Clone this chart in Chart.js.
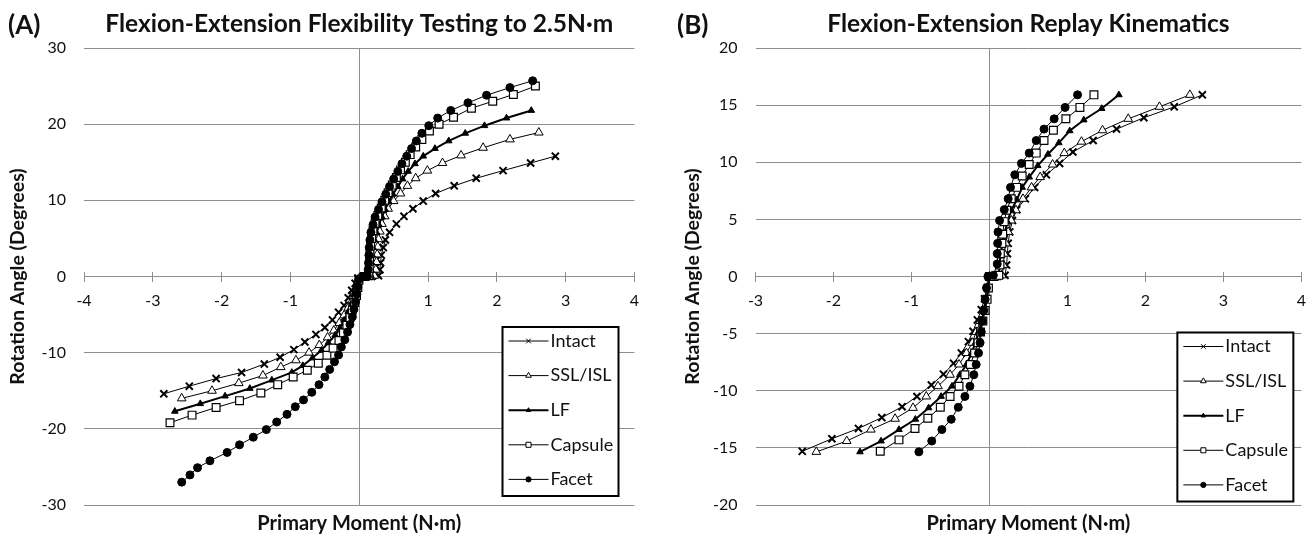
<!DOCTYPE html>
<html lang="en">
<head>
    <meta charset="UTF-8">
    <title>Flexion-Extension</title>
    <script src="https://cdn.jsdelivr.net/npm/chart.js@4.4.0/dist/chart.umd.min.js"></script>
    <style>
        body { margin: 0; background: #fff; }
        #wrap { position: relative; width: 1316px; height: 536px; }
        .panel { position: absolute; top: 0; width: 658px; height: 536px; }
        .tag { position: absolute; top: 9px; font: bold 26px Lato, sans-serif; line-height: 30px; color: #111; }
    </style>
    <script>
        // series labels, same for both panels
        var seriesNames = ['Intact', 'SSL/ISL', 'LF', 'Capsule', 'Facet'];

        // (A) flexibility testing: moment (N·m) and rotation (deg)
        var aIntactMoment = [-2.84,-2.47,-2.08,-1.71,-1.38,-1.15,-0.95,-0.79,-0.63,-0.50,-0.39,-0.30,-0.22,-0.16,-0.11,-0.06,-0.02,0.06,0.18,0.28,0.30,0.31,0.32,0.35,0.38,0.44,0.54,0.65,0.78,0.93,1.11,1.38,1.70,2.09,2.49,2.85];
        var aIntactAngle  = [-15.4,-14.4,-13.4,-12.6,-11.5,-10.6,-9.6,-8.6,-7.6,-6.7,-5.7,-4.7,-3.8,-2.8,-1.8,-0.9,-0.2,0,0,0.1,0.9,1.8,2.8,3.8,4.8,5.8,6.9,7.9,8.9,9.9,10.9,11.9,12.9,13.9,14.9,15.8];
        var aSslMoment = [-2.58,-2.14,-1.75,-1.40,-1.14,-0.92,-0.73,-0.58,-0.46,-0.37,-0.29,-0.22,-0.16,-0.10,-0.06,-0.03,-0.01,0.08,0.17,0.22,0.24,0.25,0.26,0.27,0.28,0.30,0.33,0.37,0.42,0.50,0.60,0.70,0.82,0.99,1.21,1.48,1.80,2.19,2.61];
        var aSslAngle  = [-16.0,-15.0,-14.0,-13.0,-11.9,-11.0,-10.0,-9.0,-8.0,-7.1,-6.1,-5.1,-4.1,-3.1,-2.1,-1.1,-0.3,0,0,0.1,0.9,1.9,2.9,3.9,4.9,5.9,6.9,7.9,8.9,9.9,10.9,11.9,12.9,13.9,14.9,15.9,16.9,18.0,18.9];
        var aLfMoment = [-2.68,-2.31,-1.95,-1.59,-1.27,-0.98,-0.82,-0.68,-0.55,-0.45,-0.35,-0.28,-0.22,-0.16,-0.11,-0.06,-0.03,-0.01,0.06,0.13,0.17,0.175,0.18,0.19,0.20,0.22,0.25,0.285,0.33,0.375,0.43,0.49,0.56,0.63,0.71,0.81,0.93,1.10,1.30,1.54,1.82,2.14,2.50];
        var aLfAngle  = [-17.7,-16.7,-15.7,-14.7,-13.6,-12.6,-11.7,-10.7,-9.7,-8.7,-7.7,-6.75,-5.75,-4.65,-3.55,-2.45,-1.36,-0.5,0,0,0.1,0.8,1.8,2.8,3.8,4.8,5.8,6.8,7.8,8.8,9.8,10.8,11.8,12.8,13.8,14.8,15.8,16.8,17.8,18.8,19.8,20.8,21.8];
        var aCapsuleMoment = [-2.75,-2.43,-2.08,-1.74,-1.43,-1.185,-0.96,-0.755,-0.595,-0.47,-0.38,-0.295,-0.23,-0.18,-0.135,-0.10,-0.065,-0.04,-0.02,-0.005,0.07,0.14,0.145,0.15,0.155,0.165,0.18,0.20,0.23,0.27,0.32,0.37,0.42,0.48,0.54,0.60,0.67,0.74,0.82,0.91,1.02,1.16,1.37,1.63,1.94,2.24,2.56];
        var aCapsuleAngle  = [-19.2,-18.2,-17.2,-16.3,-15.3,-14.2,-13.2,-12.3,-11.4,-10.35,-9.4,-8.4,-7.4,-6.4,-5.4,-4.4,-3.4,-2.5,-1.45,-0.5,0,0.1,1.0,2.0,3.0,4.0,5.0,6.0,7.0,8.0,9.0,10.0,11.0,12.0,13.0,14.0,15.0,16.0,17.0,18.0,19.1,20.0,20.9,22.1,23.0,23.9,25.0];
        var aFacetMoment = [-2.58,-2.46,-2.35,-2.17,-1.92,-1.74,-1.54,-1.35,-1.20,-1.05,-0.93,-0.81,-0.69,-0.585,-0.50,-0.43,-0.36,-0.30,-0.26,-0.21,-0.17,-0.135,-0.10,-0.077,-0.053,-0.034,-0.02,-0.005,0.06,0.12,0.13,0.135,0.14,0.145,0.155,0.17,0.20,0.23,0.28,0.33,0.385,0.44,0.50,0.56,0.62,0.69,0.76,0.83,0.91,1.01,1.14,1.33,1.58,1.85,2.19,2.52];
        var aFacetAngle  = [-27.0,-26.05,-25.1,-24.2,-23.1,-22.1,-21.1,-20.1,-19.1,-18.1,-17.1,-16.2,-15.2,-14.2,-13.2,-12.2,-11.2,-10.3,-9.25,-8.3,-7.3,-6.3,-5.3,-4.3,-3.3,-2.3,-1.36,-0.4,0,0,0.9,1.8,2.8,3.8,4.8,5.8,6.8,7.8,8.8,9.8,10.8,11.8,12.8,13.8,14.8,15.8,16.8,17.8,18.8,19.8,20.8,21.8,22.8,23.8,24.8,25.7];

        // (B) replay kinematics
        var bIntactMoment = [-2.40,-2.02,-1.68,-1.38,-1.12,-0.93,-0.745,-0.59,-0.46,-0.36,-0.27,-0.21,-0.155,-0.105,-0.063,-0.03,0.0,0.1,0.20,0.22,0.23,0.24,0.26,0.295,0.35,0.46,0.58,0.73,0.90,1.07,1.33,1.63,1.98,2.37,2.73];
        var bIntactAngle  = [-15.3,-14.2,-13.3,-12.35,-11.4,-10.5,-9.5,-8.55,-7.6,-6.7,-5.7,-4.8,-3.8,-2.9,-1.95,-1.0,0,0,0.1,1.0,2.0,2.9,3.9,4.9,5.85,6.8,7.8,8.9,9.9,10.9,11.9,12.9,13.9,14.85,15.9];
        var bSslMoment = [-2.22,-1.83,-1.52,-1.21,-0.98,-0.81,-0.66,-0.505,-0.39,-0.295,-0.22,-0.17,-0.115,-0.07,-0.04,-0.02,0.0,0.08,0.16,0.18,0.19,0.21,0.24,0.28,0.34,0.43,0.54,0.65,0.81,0.96,1.18,1.45,1.78,2.18,2.57];
        var bSslAngle  = [-15.35,-14.4,-13.4,-12.45,-11.5,-10.5,-9.6,-8.6,-7.7,-6.7,-5.8,-4.85,-3.9,-2.97,-2.0,-1.0,0,0,0.1,1.0,2.0,2.9,3.9,4.9,5.8,6.8,7.8,8.7,9.8,10.8,11.8,12.8,13.8,14.85,15.9];
        var bLfMoment = [-1.66,-1.39,-1.16,-0.95,-0.78,-0.62,-0.48,-0.38,-0.295,-0.23,-0.18,-0.14,-0.097,-0.063,-0.034,-0.013,0.0,0.06,0.12,0.13,0.14,0.165,0.19,0.23,0.28,0.35,0.42,0.51,0.62,0.75,0.89,1.03,1.21,1.44,1.66];
        var bLfAngle  = [-15.35,-14.4,-13.4,-12.5,-11.5,-10.5,-9.6,-8.6,-7.7,-6.7,-5.8,-4.85,-3.9,-2.97,-2.0,-1.0,0,0,0.1,1.0,1.8,2.7,3.7,4.8,5.8,6.7,7.8,8.7,9.7,10.7,11.7,12.75,13.7,14.7,15.9];
        var bCapsuleMoment = [-1.40,-1.16,-0.955,-0.79,-0.63,-0.505,-0.39,-0.315,-0.245,-0.19,-0.147,-0.114,-0.084,-0.055,-0.03,-0.013,0.0,0.06,0.12,0.135,0.14,0.16,0.17,0.19,0.22,0.28,0.35,0.42,0.51,0.60,0.70,0.82,0.98,1.16,1.34];
        var bCapsuleAngle  = [-15.3,-14.3,-13.3,-12.4,-11.45,-10.5,-9.6,-8.6,-7.7,-6.7,-5.8,-4.85,-3.9,-2.97,-2.0,-1.0,0,0,0.1,1.0,2.0,2.9,3.7,4.8,5.8,6.8,7.8,8.8,9.8,10.8,11.9,12.8,13.8,14.8,15.9];
        var bFacetMoment = [-0.905,-0.74,-0.61,-0.49,-0.40,-0.315,-0.25,-0.20,-0.17,-0.14,-0.12,-0.105,-0.088,-0.072,-0.055,-0.038,-0.02,0.05,0.10,0.10,0.105,0.11,0.13,0.19,0.24,0.27,0.325,0.41,0.51,0.60,0.70,0.83,0.97,1.13];
        var bFacetAngle  = [-15.35,-14.4,-13.4,-12.5,-11.45,-10.5,-9.6,-8.6,-7.7,-6.7,-5.8,-4.85,-3.9,-2.97,-2.0,-1.0,0,0.1,1.1,2.0,2.9,3.9,4.9,5.85,6.8,7.8,8.9,9.9,10.8,11.9,12.9,13.8,14.8,15.9];

        var GRID = '#8e8e8e';
        var TXT = '#111';

        // marker look per series, same order as seriesNames
        var markers = [
            { pointStyle: 'crossRot', pointRadius: 5, pointBorderWidth: 2, pointBackgroundColor: '#000', borderWidth: 1 },
            { pointStyle: 'triangle', pointRadius: 5, pointBorderWidth: 1, pointBackgroundColor: '#fff', borderWidth: 1 },
            { pointStyle: 'triangle', pointRadius: 3.8, pointBorderWidth: 1, pointBackgroundColor: '#000', borderWidth: 2 },
            { pointStyle: 'rect', pointRadius: 5.5, pointBorderWidth: 1.2, pointBackgroundColor: '#fff', borderWidth: 1 },
            { pointStyle: 'circle', pointRadius: 4, pointBorderWidth: 1, pointBackgroundColor: '#000', borderWidth: 1 }
        ];

        function pairs(m, a) {
            return m.map(function (v, i) { return { x: v, y: a[i] }; });
        }

        // boxed legend drawn inside the plot, lower right
        var boxLegend = {
            id: 'boxLegend',
            afterDraw: function (chart, args, opts) {
                var ctx = chart.ctx, area = chart.chartArea;
                var w = 116, h = 169;
                var left = area.right - opts.right - w;
                var top = area.bottom - opts.bottom - h;
                ctx.save();
                ctx.fillStyle = '#fff';
                ctx.fillRect(left, top, w, h);
                ctx.strokeStyle = '#000';
                ctx.lineWidth = 2;
                ctx.strokeRect(left, top, w, h);
                ctx.font = '18px Lato, sans-serif';
                ctx.textBaseline = 'middle';
                chart.data.datasets.forEach(function (ds, i) {
                    var y = top + 14 + i * 34.6;
                    ctx.strokeStyle = '#000';
                    ctx.lineWidth = ds.borderWidth;
                    ctx.beginPath();
                    ctx.moveTo(left + 6, y);
                    ctx.lineTo(left + 46, y);
                    ctx.stroke();
                    ctx.fillStyle = ds.pointBackgroundColor;
                    ctx.lineWidth = 1;
                    Chart.helpers.drawPoint(ctx, { pointStyle: ds.pointStyle, radius: ds.pointRadius * 0.65, rotation: 0, borderWidth: 1 }, left + 26, y);
                    ctx.fillStyle = TXT;
                    ctx.fillText(ds.label, left + 48, y);
                });
                ctx.restore();
            }
        };

        function makeChart(id, opt) {
            var datasets = opt.series.map(function (s, i) {
                var d = {
                    label: seriesNames[i],
                    data: s,
                    showLine: true,
                    borderColor: '#000',
                    pointBorderColor: '#000',
                    order: 5 - i
                };
                for (var k in markers[i]) d[k] = markers[i][k];
                return d;
            });
            var tickFont = { size: 16 };
            return new Chart(document.getElementById(id), {
                type: 'scatter',
                data: { datasets: datasets },
                plugins: [boxLegend],
                options: {
                    responsive: false,
                    animation: false,
                    layout: { padding: { left: 0, right: opt.padRight, top: 2, bottom: 0 } },
                    plugins: {
                        legend: { display: false },
                        tooltip: { enabled: false },
                        title: {
                            display: true, text: opt.title, fullSize: false, color: TXT,
                            font: { size: 24.5, weight: 'bold' }, padding: { top: 7.3, bottom: 9.3 }
                        },
                        boxLegend: { right: opt.legendRight, bottom: opt.legendBottom }
                    },
                    scales: {
                        x: {
                            type: 'linear', position: { y: 0 }, min: opt.xMin, max: opt.xMax,
                            ticks: {
                                stepSize: 1, padding: 10, color: TXT, font: tickFont,
                                callback: function (v) { return v === 0 ? '' : v; }
                            },
                            grid: {
                                color: function (c) { return c.tick && c.tick.value === 0 ? GRID : 'rgba(0,0,0,0)'; },
                                tickColor: GRID, tickLength: 5
                            },
                            border: { color: GRID }
                        },
                        xt: {
                            type: 'linear', position: { y: 0 }, min: opt.xMin, max: opt.xMax,
                            ticks: { stepSize: 1, display: false },
                            grid: { drawOnChartArea: false, tickColor: GRID, tickLength: -5 },
                            border: { display: false }
                        },
                        xb: {
                            type: 'linear', position: 'bottom', min: opt.xMin, max: opt.xMax,
                            ticks: { display: false },
                            grid: { display: false, drawTicks: false },
                            border: { display: false },
                            title: {
                                display: true, text: 'Primary Moment (N·m)', color: TXT,
                                font: { size: 20, weight: 'bold' }, padding: { top: 7, bottom: 0 }
                            }
                        },
                        y: {
                            type: 'linear', position: 'left', min: opt.yMin, max: opt.yMax,
                            afterFit: function (s) { s.width = opt.yWidth; },
                            ticks: { stepSize: opt.yStep, padding: 18, color: TXT, font: tickFont },
                            grid: { color: GRID, drawTicks: false },
                            border: { display: false },
                            title: {
                                display: true, text: 'Rotation Angle (Degrees)', color: TXT,
                                font: { size: 19.5, weight: 'bold' }, padding: { top: opt.yTitlePad, bottom: 0 }
                            }
                        }
                    }
                }
            });
        }

        window.onload = function () {
            Chart.defaults.font.family = 'Lato, "Open Sans", sans-serif';
            Chart.defaults.color = TXT;

            makeChart('chartA', {
                title: 'Flexion-Extension Flexibility Testing to 2.5N·m',
                series: [
                    pairs(aIntactMoment, aIntactAngle),
                    pairs(aSslMoment, aSslAngle),
                    pairs(aLfMoment, aLfAngle),
                    pairs(aCapsuleMoment, aCapsuleAngle),
                    pairs(aFacetMoment, aFacetAngle)
                ],
                xMin: -4, xMax: 4, yMin: -30, yMax: 30, yStep: 10,
                yWidth: 84, yTitlePad: 6.3, padRight: 23.5,
                legendRight: 16, legendBottom: 9
            });

            makeChart('chartB', {
                title: 'Flexion-Extension Replay Kinematics',
                series: [
                    pairs(bIntactMoment, bIntactAngle),
                    pairs(bSslMoment, bSslAngle),
                    pairs(bLfMoment, bLfAngle),
                    pairs(bCapsuleMoment, bCapsuleAngle),
                    pairs(bFacetMoment, bFacetAngle)
                ],
                xMin: -3, xMax: 4, yMin: -20, yMax: 20, yStep: 5,
                yWidth: 97.5, yTitlePad: 22.8, padRight: 10,
                legendRight: 8, legendBottom: 3.5
            });
        };
    </script>
</head>
<body>
    <div id="wrap">
        <div class="panel" style="left: 0;"><canvas id="chartA" width="658" height="536"></canvas></div>
        <div class="panel" style="left: 658px;"><canvas id="chartB" width="658" height="536"></canvas></div>
        <div class="tag" style="left: 8px;">(A)</div>
        <div class="tag" style="left: 677px;">(B)</div>
    </div>
</body>
</html>
